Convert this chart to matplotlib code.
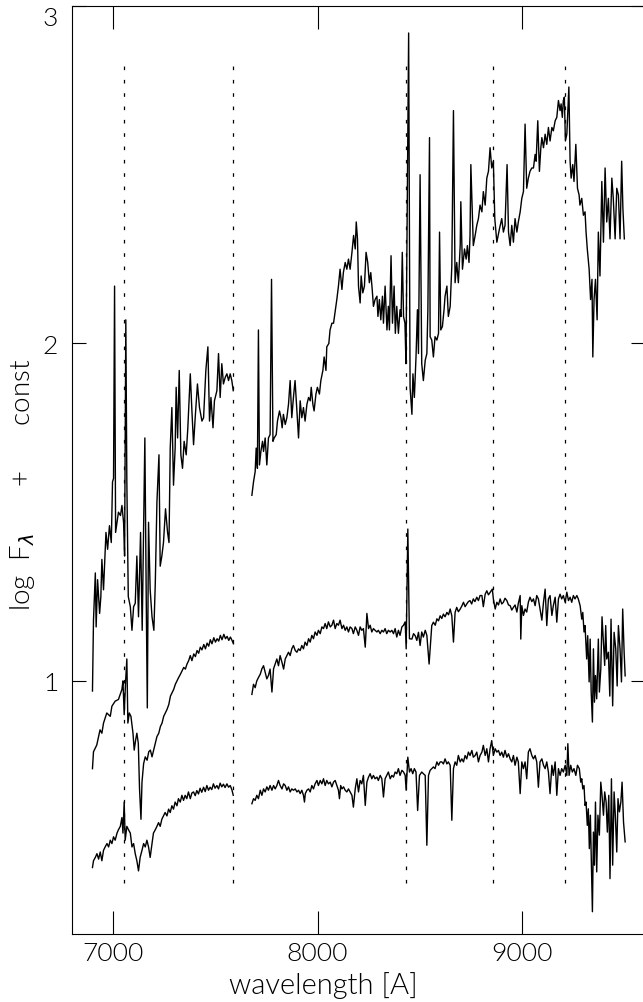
import os
import numpy as np
import matplotlib
matplotlib.use("Agg")
import matplotlib.pyplot as plt
from matplotlib import font_manager
from matplotlib.font_manager import FontProperties

# SPECTRA: WAVELENGTH [A] AND log F + const
# (two segments each, the A-band gap 7590-7680 is left out)
top_wl_1 = [6900, 6905, 6914, 6918, 6925, 6935, 6941, 6946, 6954, 6966,
            6974, 6983, 6992, 6998, 7003, 7008, 7013, 7020, 7027, 7037,
            7044, 7052, 7057, 7063, 7068, 7075, 7085, 7093, 7101, 7109,
            7117, 7125, 7135, 7143, 7156, 7163, 7168, 7174, 7182, 7191,
            7200, 7207, 7215, 7225, 7231, 7239, 7247, 7257, 7267, 7274,
            7280, 7288, 7296, 7304, 7309, 7316, 7324, 7332, 7340, 7348,
            7358, 7366, 7378, 7386, 7394, 7402, 7413, 7423, 7435, 7443,
            7454, 7464, 7472, 7479, 7489, 7496, 7508, 7516, 7524, 7532,
            7540, 7549, 7557, 7565, 7573, 7581, 7588]
top_fx_1 = [0.97, 1.18, 1.32, 1.16, 1.30, 1.20, 1.25, 1.36, 1.27, 1.44,
            1.39, 1.46, 1.41, 1.59, 1.60, 2.17, 1.44, 1.47, 1.50, 1.49,
            1.52, 1.47, 1.37, 2.07, 1.59, 1.25, 1.22, 1.15, 1.22, 1.23,
            1.37, 1.19, 1.44, 1.15, 1.72, 1.23, 0.92, 1.47, 1.27, 1.19,
            1.15, 1.29, 1.53, 1.67, 1.34, 1.37, 1.41, 1.51, 1.44, 1.41,
            1.69, 1.81, 1.58, 1.69, 1.87, 1.72, 1.92, 1.67, 1.63, 1.71,
            1.67, 1.75, 1.91, 1.80, 1.70, 1.78, 1.88, 1.81, 1.77, 1.78,
            1.92, 1.99, 1.77, 1.84, 1.75, 1.83, 1.86, 1.97, 1.84, 1.94,
            1.88, 1.90, 1.91, 1.89, 1.91, 1.89, 1.86]

top_wl_2 = [7679, 7687, 7695, 7700, 7706, 7711, 7716, 7723, 7731, 7736,
            7744, 7752, 7760, 7768, 7775, 7782, 7788, 7798, 7804, 7814,
            7821, 7827, 7833, 7842, 7850, 7858, 7866, 7874, 7882, 7890,
            7899, 7907, 7915, 7923, 7931, 7939, 7948, 7956, 7964, 7969,
            7977, 7983, 7992, 7999, 8009, 8016, 8026, 8032, 8041, 8045,
            8055, 8061, 8070, 8078, 8087, 8094, 8102, 8110, 8119, 8126,
            8135, 8143, 8151, 8159, 8168, 8176, 8184, 8189, 8195, 8200,
            8208, 8213, 8221, 8229, 8237, 8245, 8253, 8260, 8267, 8273,
            8281, 8290, 8295, 8302, 8309, 8317, 8322, 8330, 8339, 8346,
            8351, 8359, 8366, 8374, 8380, 8387, 8395, 8403, 8408, 8414,
            8420, 8427, 8432, 8436, 8445, 8452, 8461, 8466, 8473, 8481,
            8488, 8493, 8501, 8509, 8517, 8526, 8534, 8539, 8547, 8550,
            8558, 8566, 8574, 8583, 8591, 8596, 8602, 8610, 8618, 8623,
            8632, 8639, 8648, 8656, 8664, 8672, 8680, 8688, 8697, 8700,
            8708, 8718, 8726, 8732, 8740, 8745, 8749, 8761, 8770, 8778,
            8786, 8794, 8803, 8810, 8819, 8827, 8835, 8843, 8851, 8859,
            8866, 8876, 8889, 8900, 8908, 8916, 8926, 8933, 8941, 8949,
            8957, 8965, 8974, 8981, 8990, 8998, 9006, 9014, 9022, 9030,
            9038, 9047, 9055, 9063, 9068, 9076, 9084, 9091, 9096, 9104,
            9112, 9120, 9128, 9136, 9145, 9152, 9161, 9169, 9177, 9185,
            9190, 9196, 9201, 9206, 9211, 9218, 9228, 9234, 9239, 9247,
            9253, 9262, 9270, 9278, 9282, 9291, 9299, 9307, 9312, 9318,
            9327, 9334, 9341, 9345, 9351, 9358, 9366, 9372, 9380, 9389,
            9397, 9405, 9413, 9421, 9429, 9438, 9445, 9454, 9462, 9470,
            9478, 9486, 9492, 9499]
top_fx_2 = [1.55, 1.59, 1.62, 1.69, 1.63, 2.04, 1.64, 1.68, 1.71, 1.68,
            1.72, 1.64, 1.72, 1.73, 2.19, 1.71, 1.72, 1.73, 1.77, 1.80,
            1.78, 1.75, 1.79, 1.76, 1.78, 1.82, 1.89, 1.78, 1.84, 1.89,
            1.80, 1.72, 1.83, 1.78, 1.81, 1.77, 1.82, 1.84, 1.83, 1.87,
            1.82, 1.80, 1.85, 1.87, 1.85, 1.89, 1.92, 1.96, 1.92, 1.99,
            2.00, 2.04, 2.06, 2.06, 2.10, 2.13, 2.17, 2.22, 2.16, 2.21,
            2.24, 2.22, 2.25, 2.22, 2.27, 2.32, 2.28, 2.36, 2.31, 2.17,
            2.12, 2.20, 2.15, 2.17, 2.27, 2.24, 2.18, 2.21, 2.16, 2.11,
            2.13, 2.14, 2.08, 2.13, 2.07, 2.14, 2.06, 2.17, 2.04, 2.11,
            2.04, 2.26, 2.06, 2.17, 2.03, 2.11, 2.03, 2.10, 2.08, 2.27,
            2.08, 2.06, 1.94, 2.24, 2.92, 1.87, 1.79, 1.91, 1.84, 1.96,
            2.10, 1.97, 2.50, 1.94, 1.89, 1.95, 1.97, 2.10, 2.61, 2.02,
            2.01, 1.96, 2.02, 2.01, 2.03, 2.33, 2.04, 2.05, 2.10, 2.14,
            2.17, 2.08, 2.11, 2.23, 2.69, 2.18, 2.24, 2.18, 2.29, 2.42,
            2.22, 2.28, 2.25, 2.29, 2.24, 2.32, 2.53, 2.29, 2.32, 2.35,
            2.37, 2.41, 2.39, 2.45, 2.41, 2.49, 2.51, 2.58, 2.52, 2.54,
            2.37, 2.30, 2.34, 2.37, 2.33, 2.35, 2.53, 2.33, 2.29, 2.35,
            2.30, 2.37, 2.33, 2.36, 2.39, 2.43, 2.45, 2.65, 2.46, 2.49,
            2.51, 2.52, 2.52, 2.56, 2.54, 2.66, 2.51, 2.58, 2.61, 2.58,
            2.62, 2.59, 2.64, 2.60, 2.64, 2.63, 2.66, 2.67, 2.72, 2.69,
            2.71, 2.67, 2.72, 2.73, 2.60, 2.62, 2.76, 2.54, 2.49, 2.53,
            2.48, 2.59, 2.46, 2.44, 2.41, 2.43, 2.38, 2.39, 2.33, 2.28,
            2.22, 2.13, 2.19, 1.96, 2.13, 2.19, 2.07, 2.33, 2.20, 2.48,
            2.30, 2.52, 2.36, 2.43, 2.31, 2.49, 2.43, 2.31, 2.46, 2.44,
            2.31, 2.54, 2.40, 2.31]

mid_wl_1 = [6900, 6905, 6921, 6937, 6946, 6954, 6970, 6987, 6995, 7011,
            7027, 7044, 7049, 7055, 7062, 7068, 7073, 7080, 7088, 7098,
            7104, 7111, 7117, 7124, 7130, 7137, 7142, 7150, 7158, 7167,
            7175, 7183, 7191, 7199, 7207, 7215, 7224, 7232, 7240, 7248,
            7256, 7264, 7273, 7281, 7289, 7297, 7305, 7313, 7321, 7330,
            7338, 7346, 7354, 7362, 7370, 7378, 7386, 7395, 7403, 7411,
            7419, 7427, 7435, 7444, 7452, 7460, 7468, 7476, 7484, 7493,
            7501, 7509, 7517, 7525, 7533, 7542, 7550, 7558, 7566, 7574,
            7582, 7589]
mid_fx_1 = [0.74, 0.79, 0.81, 0.855, 0.845, 0.875, 0.905, 0.895, 0.925, 0.94,
            0.945, 0.975, 1.00, 0.90, 1.00, 1.065, 0.875, 0.905, 0.895, 0.845,
            0.795, 0.825, 0.845, 0.815, 0.68, 0.59, 0.70, 0.755, 0.775, 0.765,
            0.79, 0.795, 0.775, 0.795, 0.815, 0.835, 0.845, 0.865, 0.875, 0.895,
            0.905, 0.915, 0.93, 0.955, 0.965, 0.975, 0.99, 1.00, 1.01, 1.02,
            1.03, 1.04, 1.035, 1.05, 1.06, 1.075, 1.06, 1.08, 1.072, 1.09,
            1.082, 1.10, 1.092, 1.108, 1.095, 1.112, 1.103, 1.122, 1.11, 1.128,
            1.115, 1.125, 1.118, 1.135, 1.122, 1.138, 1.125, 1.132, 1.12, 1.13,
            1.12, 1.11]

mid_wl_2 = [7679, 7687, 7695, 7703, 7711, 7720, 7728, 7736, 7744, 7752,
            7760, 7768, 7777, 7785, 7793, 7801, 7809, 7817, 7826, 7834,
            7842, 7850, 7858, 7866, 7874, 7882, 7891, 7899, 7907, 7915,
            7923, 7931, 7939, 7948, 7956, 7964, 7972, 7980, 7988, 7997,
            8004, 8013, 8021, 8029, 8037, 8045, 8053, 8062, 8070, 8078,
            8086, 8094, 8102, 8110, 8119, 8127, 8135, 8143, 8151, 8159,
            8168, 8175, 8184, 8192, 8200, 8208, 8216, 8224, 8233, 8241,
            8249, 8257, 8265, 8273, 8281, 8290, 8297, 8306, 8314, 8322,
            8330, 8338, 8346, 8355, 8363, 8371, 8379, 8387, 8395, 8403,
            8412, 8420, 8428, 8433, 8441, 8449, 8461, 8469, 8477, 8485,
            8493, 8501, 8509, 8517, 8526, 8534, 8545, 8558, 8566, 8575,
            8583, 8591, 8599, 8607, 8615, 8623, 8632, 8640, 8648, 8656,
            8664, 8672, 8680, 8688, 8697, 8705, 8713, 8721, 8729, 8737,
            8745, 8753, 8761, 8769, 8778, 8786, 8794, 8803, 8810, 8819,
            8827, 8835, 8843, 8854, 8859, 8868, 8876, 8884, 8892, 8900,
            8908, 8916, 8925, 8933, 8941, 8949, 8957, 8965, 8974, 8981,
            8990, 8993, 8998, 9006, 9014, 9022, 9030, 9038, 9047, 9055,
            9063, 9071, 9079, 9087, 9096, 9104, 9112, 9120, 9128, 9136,
            9145, 9152, 9161, 9169, 9177, 9185, 9193, 9201, 9210, 9218,
            9226, 9234, 9242, 9250, 9258, 9267, 9274, 9283, 9291, 9296,
            9302, 9307, 9315, 9320, 9327, 9332, 9337, 9343, 9348, 9353,
            9358, 9364, 9372, 9377, 9384, 9390, 9397, 9403, 9408, 9413,
            9421, 9428, 9434, 9442, 9449, 9457, 9464, 9470, 9478, 9485,
            9491, 9498, 9503]
mid_fx_2 = [0.96, 0.99, 0.98, 1.00, 1.01, 1.02, 1.036, 1.045, 1.026, 1.006,
            1.016, 1.035, 0.967, 1.036, 1.05, 1.065, 1.045, 1.075, 1.055, 1.035,
            1.065, 1.075, 1.085, 1.075, 1.095, 1.105, 1.09, 1.085, 1.095, 1.09,
            1.105, 1.095, 1.115, 1.105, 1.125, 1.115, 1.135, 1.125, 1.145, 1.135,
            1.15, 1.14, 1.16, 1.155, 1.17, 1.155, 1.175, 1.16, 1.165, 1.18,
            1.155, 1.17, 1.165, 1.18, 1.155, 1.165, 1.15, 1.16, 1.145, 1.16,
            1.155, 1.14, 1.16, 1.15, 1.135, 1.16, 1.15, 1.155, 1.10, 1.20,
            1.155, 1.165, 1.145, 1.155, 1.15, 1.145, 1.15, 1.14, 1.15, 1.145,
            1.155, 1.14, 1.15, 1.145, 1.15, 1.14, 1.155, 1.13, 1.15, 1.135,
            1.16, 1.165, 1.175, 1.095, 1.45, 1.125, 1.124, 1.14, 1.134, 1.12,
            1.144, 1.105, 1.145, 1.13, 1.15, 1.135, 1.05, 1.164, 1.174, 1.165,
            1.184, 1.178, 1.193, 1.185, 1.198, 1.19, 1.203, 1.196, 1.213, 1.193,
            1.115, 1.203, 1.218, 1.205, 1.213, 1.222, 1.233, 1.22, 1.228, 1.235,
            1.238, 1.228, 1.243, 1.235, 1.248, 1.238, 1.253, 1.253, 1.22, 1.257,
            1.267, 1.255, 1.262, 1.272, 1.243, 1.213, 1.233, 1.225, 1.243, 1.228,
            1.233, 1.245, 1.238, 1.225, 1.223, 1.21, 1.218, 1.225, 1.204, 1.23,
            1.253, 1.124, 1.223, 1.194, 1.213, 1.204, 1.233, 1.248, 1.235, 1.243,
            1.223, 1.253, 1.243, 1.213, 1.18, 1.233, 1.272, 1.164, 1.243, 1.253,
            1.194, 1.223, 1.248, 1.174, 1.243, 1.257, 1.243, 1.253, 1.233, 1.263,
            1.238, 1.248, 1.233, 1.253, 1.243, 1.253, 1.243, 1.223, 1.183, 1.203,
            1.145, 1.164, 1.065, 1.134, 0.997, 1.124, 0.967, 0.878, 1.095, 0.937,
            1.016, 0.947, 1.124, 0.967, 1.036, 1.19, 1.115, 1.046, 1.164, 1.065,
            1.085, 0.955, 1.183, 0.926, 1.144, 1.095, 0.985, 1.164, 1.095, 0.997,
            1.213, 1.085, 1.015]

bot_wl_1 = [6900, 6905, 6914, 6922, 6930, 6938, 6946, 6954, 6962, 6971,
            6979, 6987, 6995, 7003, 7011, 7020, 7027, 7036, 7044, 7049,
            7055, 7060, 7068, 7076, 7085, 7093, 7101, 7109, 7117, 7125,
            7133, 7142, 7150, 7158, 7166, 7174, 7182, 7191, 7198, 7207,
            7215, 7223, 7231, 7239, 7247, 7255, 7264, 7272, 7280, 7288,
            7296, 7304, 7313, 7320, 7329, 7337, 7345, 7353, 7361, 7369,
            7378, 7386, 7394, 7402, 7410, 7418, 7426, 7434, 7443, 7451,
            7459, 7467, 7475, 7483, 7491, 7499, 7508, 7516, 7524, 7532,
            7540, 7548, 7557, 7565, 7573, 7581, 7588]
bot_fx_1 = [0.447, 0.467, 0.477, 0.488, 0.472, 0.493, 0.467, 0.498, 0.508, 0.518,
            0.508, 0.528, 0.518, 0.538, 0.528, 0.549, 0.559, 0.569, 0.595, 0.549,
            0.641, 0.528, 0.569, 0.559, 0.549, 0.508, 0.518, 0.488, 0.467, 0.437,
            0.477, 0.498, 0.518, 0.508, 0.528, 0.508, 0.477, 0.518, 0.549, 0.559,
            0.569, 0.580, 0.569, 0.590, 0.600, 0.610, 0.600, 0.620, 0.610, 0.630,
            0.620, 0.641, 0.630, 0.651, 0.641, 0.661, 0.646, 0.661, 0.651, 0.671,
            0.651, 0.668, 0.671, 0.660, 0.675, 0.665, 0.682, 0.670, 0.685, 0.672,
            0.690, 0.676, 0.685, 0.678, 0.695, 0.682, 0.690, 0.680, 0.697, 0.686,
            0.694, 0.684, 0.695, 0.685, 0.690, 0.678, 0.661]

bot_wl_2 = [7679, 7687, 7695, 7703, 7711, 7720, 7728, 7736, 7744, 7752,
            7760, 7768, 7777, 7785, 7793, 7801, 7809, 7817, 7826, 7834,
            7842, 7850, 7858, 7866, 7874, 7882, 7891, 7899, 7907, 7915,
            7923, 7931, 7936, 7940, 7948, 7956, 7964, 7972, 7980, 7988,
            7997, 8004, 8013, 8021, 8029, 8037, 8045, 8053, 8062, 8070,
            8078, 8086, 8094, 8102, 8107, 8113, 8119, 8127, 8135, 8143,
            8151, 8159, 8168, 8175, 8184, 8192, 8200, 8208, 8216, 8224,
            8233, 8241, 8249, 8257, 8265, 8273, 8281, 8290, 8297, 8306,
            8314, 8322, 8330, 8338, 8346, 8355, 8363, 8371, 8379, 8387,
            8395, 8403, 8412, 8420, 8428, 8433, 8441, 8449, 8457, 8465,
            8473, 8481, 8489, 8498, 8509, 8517, 8526, 8534, 8542, 8550,
            8558, 8566, 8574, 8583, 8591, 8599, 8607, 8615, 8623, 8632,
            8639, 8648, 8656, 8664, 8672, 8680, 8688, 8697, 8705, 8713,
            8721, 8729, 8737, 8745, 8754, 8761, 8770, 8778, 8786, 8794,
            8803, 8810, 8819, 8827, 8835, 8843, 8851, 8859, 8868, 8876,
            8884, 8892, 8900, 8908, 8916, 8925, 8933, 8941, 8949, 8957,
            8965, 8974, 8981, 8990, 8998, 9006, 9014, 9022, 9030, 9038,
            9047, 9055, 9063, 9071, 9079, 9087, 9096, 9104, 9112, 9120,
            9128, 9136, 9145, 9152, 9161, 9169, 9177, 9185, 9193, 9201,
            9210, 9218, 9223, 9229, 9237, 9245, 9253, 9262, 9270, 9279,
            9286, 9291, 9296, 9302, 9307, 9312, 9318, 9323, 9328, 9333,
            9338, 9343, 9348, 9353, 9358, 9364, 9370, 9377, 9384, 9390,
            9397, 9403, 9410, 9416, 9423, 9429, 9436, 9442, 9449, 9455,
            9462, 9468, 9475, 9482, 9488, 9495, 9503]
bot_fx_2 = [0.636, 0.651, 0.646, 0.661, 0.651, 0.676, 0.661, 0.68, 0.671, 0.686,
            0.676, 0.69, 0.676, 0.69, 0.68, 0.69, 0.705, 0.69, 0.68, 0.695,
            0.69, 0.676, 0.686, 0.671, 0.68, 0.676, 0.68, 0.671, 0.676, 0.666,
            0.676, 0.661, 0.641, 0.666, 0.676, 0.68, 0.671, 0.69, 0.68, 0.695,
            0.705, 0.69, 0.705, 0.695, 0.71, 0.69, 0.705, 0.695, 0.70, 0.686,
            0.70, 0.705, 0.69, 0.676, 0.651, 0.69, 0.68, 0.686, 0.676, 0.671,
            0.68, 0.671, 0.661, 0.626, 0.68, 0.71, 0.671, 0.705, 0.695, 0.72,
            0.631, 0.70, 0.715, 0.725, 0.71, 0.72, 0.71, 0.715, 0.705, 0.72,
            0.71, 0.656, 0.71, 0.72, 0.73, 0.71, 0.72, 0.715, 0.73, 0.725,
            0.74, 0.72, 0.735, 0.73, 0.72, 0.676, 0.774, 0.73, 0.74, 0.725,
            0.74, 0.73, 0.616, 0.72, 0.73, 0.725, 0.72, 0.513, 0.72, 0.735,
            0.74, 0.745, 0.74, 0.76, 0.75, 0.76, 0.76, 0.754, 0.769, 0.754,
            0.76, 0.75, 0.587, 0.74, 0.76, 0.75, 0.779, 0.76, 0.769, 0.76,
            0.779, 0.769, 0.789, 0.779, 0.794, 0.774, 0.779, 0.789, 0.76, 0.779,
            0.789, 0.809, 0.779, 0.799, 0.76, 0.799, 0.823, 0.779, 0.799, 0.789,
            0.794, 0.779, 0.789, 0.774, 0.794, 0.774, 0.784, 0.769, 0.76, 0.779,
            0.75, 0.774, 0.76, 0.666, 0.76, 0.74, 0.76, 0.71, 0.789, 0.799,
            0.779, 0.769, 0.779, 0.76, 0.685, 0.76, 0.769, 0.75, 0.74, 0.76,
            0.73, 0.666, 0.75, 0.72, 0.76, 0.661, 0.74, 0.72, 0.74, 0.73,
            0.75, 0.72, 0.814, 0.72, 0.75, 0.73, 0.74, 0.72, 0.75, 0.74,
            0.70, 0.71, 0.68, 0.69, 0.631, 0.641, 0.572, 0.621, 0.503, 0.602,
            0.464, 0.316, 0.552, 0.454, 0.641, 0.434, 0.602, 0.543, 0.70, 0.661,
            0.602, 0.671, 0.641, 0.552, 0.661, 0.414, 0.71, 0.454, 0.671, 0.602,
            0.493, 0.651, 0.612, 0.641, 0.70, 0.582, 0.523]

# DOTTED MARKER LINES
line_wl = [7054, 7589, 8431, 8859, 9208]
line_lo, line_hi = 0.40, 2.85

xticks = [7000, 8000, 9000]
yticks = [1, 2, 3]

# PICK A LIGHT (NOT HAIRLINE/THIN) FONT FILE, CLOSEST TO THE THIN VECTOR FONT
def light_font():
    for fam in ("Lato", "Open Sans", "Roboto"):
        for f in font_manager.fontManager.ttflist:
            base = os.path.basename(f.fname).lower()
            if f.name != fam or "light" not in base:
                continue
            if any(k in base for k in ("extralight", "italic", "hairline", "thin")):
                continue
            return f.fname
    return None

path = light_font()
if path:
    def fp(size):
        return FontProperties(fname=path, size=size)
else:
    def fp(size):
        return FontProperties(family="DejaVu Sans", size=size)

plt.rcParams["mathtext.fontset"] = "dejavusans"
plt.rcParams["lines.scale_dashes"] = False

W, H = 643, 1003
fig = plt.figure(figsize=(W / 100, H / 100), dpi=100)
# axes right edge sits just past the image edge, as in the original
ax = fig.add_axes([72 / W, (H - 935) / H, (645 - 72) / W, (935 - 7) / H])

for wl, fx in [(top_wl_1, top_fx_1), (top_wl_2, top_fx_2),
               (mid_wl_1, mid_fx_1), (mid_wl_2, mid_fx_2),
               (bot_wl_1, bot_fx_1), (bot_wl_2, bot_fx_2)]:
    ax.plot(np.array(wl), np.array(fx), color="black", lw=1.0)

for w in line_wl:
    ax.plot([w, w], [line_lo, line_hi], color="black", lw=0.9,
            dashes=(2.6, 7.0))

ax.set_xlim(6800, 9600)
ax.set_ylim(0.25, 3)
ax.set_xticks(xticks)
ax.set_yticks(yticks)
ax.set_xticklabels([str(t) for t in xticks], fontproperties=fp(19))
ax.set_yticklabels([str(t) for t in yticks], fontproperties=fp(19))
ax.minorticks_off()

ax.tick_params(axis="x", direction="in", top=True, length=16.5, width=0.8,
               pad=5, colors="black")
ax.tick_params(axis="y", direction="in", right=True, length=10, width=0.8,
               pad=10, colors="black")
for s in ax.spines.values():
    s.set_linewidth(0.8)

# TOP LABEL "3" HANGS BELOW ITS TICK
ax.get_yticklabels()[-1].set_verticalalignment("top")

ax.set_xlabel("wavelength [A]", fontproperties=fp(21))
ax.xaxis.set_label_coords(0.438, -0.040)
ax.xaxis.label.set_verticalalignment("top")
ax.set_ylabel("log  F$_\\lambda$      +      const", fontproperties=fp(20),
              va="center")
ax.yaxis.set_label_coords(-0.087, 0.485)

fig.savefig("out.png", dpi=100)
